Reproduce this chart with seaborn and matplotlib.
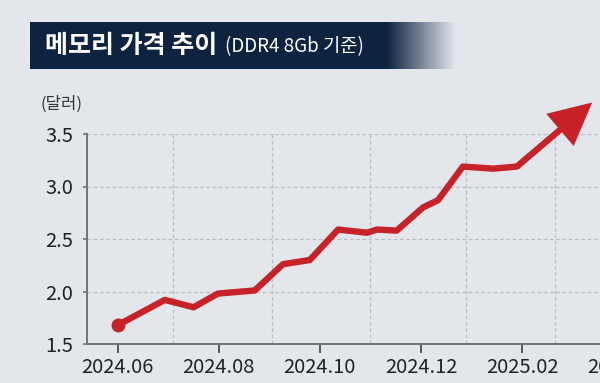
import numpy as np
import pandas as pd
import matplotlib
matplotlib.use("Agg")
import matplotlib.pyplot as plt
import seaborn as sns

# ---- data (month offset from 2024.06, price in USD) ----
months = [0.0, 0.93, 1.50, 1.98, 2.71, 3.27, 3.80, 4.36, 4.93, 5.13, 5.52,
          6.04, 6.34, 6.83, 7.43, 7.90]
prices = [1.68, 1.92, 1.85, 1.98, 2.01, 2.26, 2.30, 2.59, 2.56, 2.59, 2.58,
          2.80, 2.87, 3.19, 3.17, 3.19]
arrow_tip = (9.39, 3.80)
tick_pos = [0, 2, 4, 6, 8, 10]
tick_labels = ["2024.06", "2024.08", "2024.10", "2024.12", "2025.02", "2025.04"]
y_ticks = [1.5, 2.0, 2.5, 3.0, 3.5]

sns.set_theme(style="white")
plt.rcParams['font.family'] = ['Noto Sans CJK KR', 'DejaVu Sans']

BG = '#e3e7ec'
RED = '#c62228'
fig = plt.figure(figsize=(6.0, 3.83), dpi=100, facecolor=BG)

# axes deliberately extends past the right edge of the figure
ax = fig.add_axes([87/600, 1-344/383, 536/600, (344-134)/383])
ax.set_facecolor(BG)

df = pd.DataFrame({"month": months, "price": prices})
sns.lineplot(data=df, x="month", y="price", ax=ax, color=RED, lw=4.6,
             solid_joinstyle='round', solid_capstyle='round', zorder=5)
ax.plot(months[0], prices[0], 'o', color=RED, ms=9, zorder=6)
ax.annotate("", xy=arrow_tip, xytext=(months[-1], prices[-1]),
            arrowprops=dict(arrowstyle="-|>,head_length=2.3,head_width=1.15",
                            color=RED, lw=4.6, mutation_scale=10,
                            shrinkA=0, shrinkB=0, joinstyle='miter',
                            capstyle='butt'),
            annotation_clip=False, zorder=7)

ax.set_xticks(tick_pos)
ax.set_xticklabels(tick_labels)
ax.set_yticks(y_ticks)
ax.set_yticklabels([f"{v:.1f}" for v in y_ticks])
ax.set_xticks([1.1, 3.05, 5.0, 6.9, 8.65], minor=True)
ax.set_xlim(-0.61, 10.0)
ax.set_ylim(1.5, 3.5)
ax.set_xlabel("")
ax.set_ylabel("")

ax.grid(axis='y', which='major', color='#b9bec5', lw=0.9, ls=(0, (3, 2)))
ax.grid(axis='x', which='minor', color='#b9bec5', lw=0.9, ls=(0, (3, 2)))
ax.grid(axis='x', which='major', visible=False)

for s in ['top', 'right']:
    ax.spines[s].set_visible(False)
for s in ['left', 'bottom']:
    ax.spines[s].set_color('#6f7378')
    ax.spines[s].set_linewidth(1.4)

ax.tick_params(axis='x', which='major', length=6.5, width=1.4, color='#55585c',
               pad=3, labelsize=14.5, labelcolor='#222222', bottom=True)
ax.tick_params(axis='x', which='minor', length=0)
ax.tick_params(axis='y', length=3, width=1.2, color='#6f7378', pad=7,
               labelsize=14.5, labelcolor='#222222', left=True)
for lab in ax.get_xticklabels() + ax.get_yticklabels():
    lab.set_fontweight('medium')

# unit label
fig.text(40/600, 1-104/383, "(달러)", fontsize=12, color='#333333',
         va='center', ha='left')

# title banner with fading right edge
bax = fig.add_axes([30/600, 1-69/383, 425/600, 47/383])
bax.set_axis_off()
w = 400
grad = np.zeros((1, w, 4))
navy = np.array([14, 35, 64]) / 255
grad[..., :3] = navy
xs = np.linspace(0, 1, w)
alpha = np.clip((1 - xs) / 0.16, 0, 1)
grad[0, :, 3] = alpha
bax.imshow(grad, aspect='auto', extent=[0, 1, 0, 1])
bax.set_xlim(0, 1)
bax.set_ylim(0, 1)
t1 = fig.text(45/600, 1-46/383, "메모리 가격 추이", fontsize=18, fontweight='bold',
              color='white', va='center', ha='left')
fig.canvas.draw()
bb = t1.get_window_extent()
x2 = max(bb.x1 + 8, 222) / 600
fig.text(x2, 1-47/383, "(DDR4 8Gb 기준)", fontsize=13.5,
         color='white', va='center', ha='left')

fig.savefig("out.png", dpi=100, facecolor=BG)
